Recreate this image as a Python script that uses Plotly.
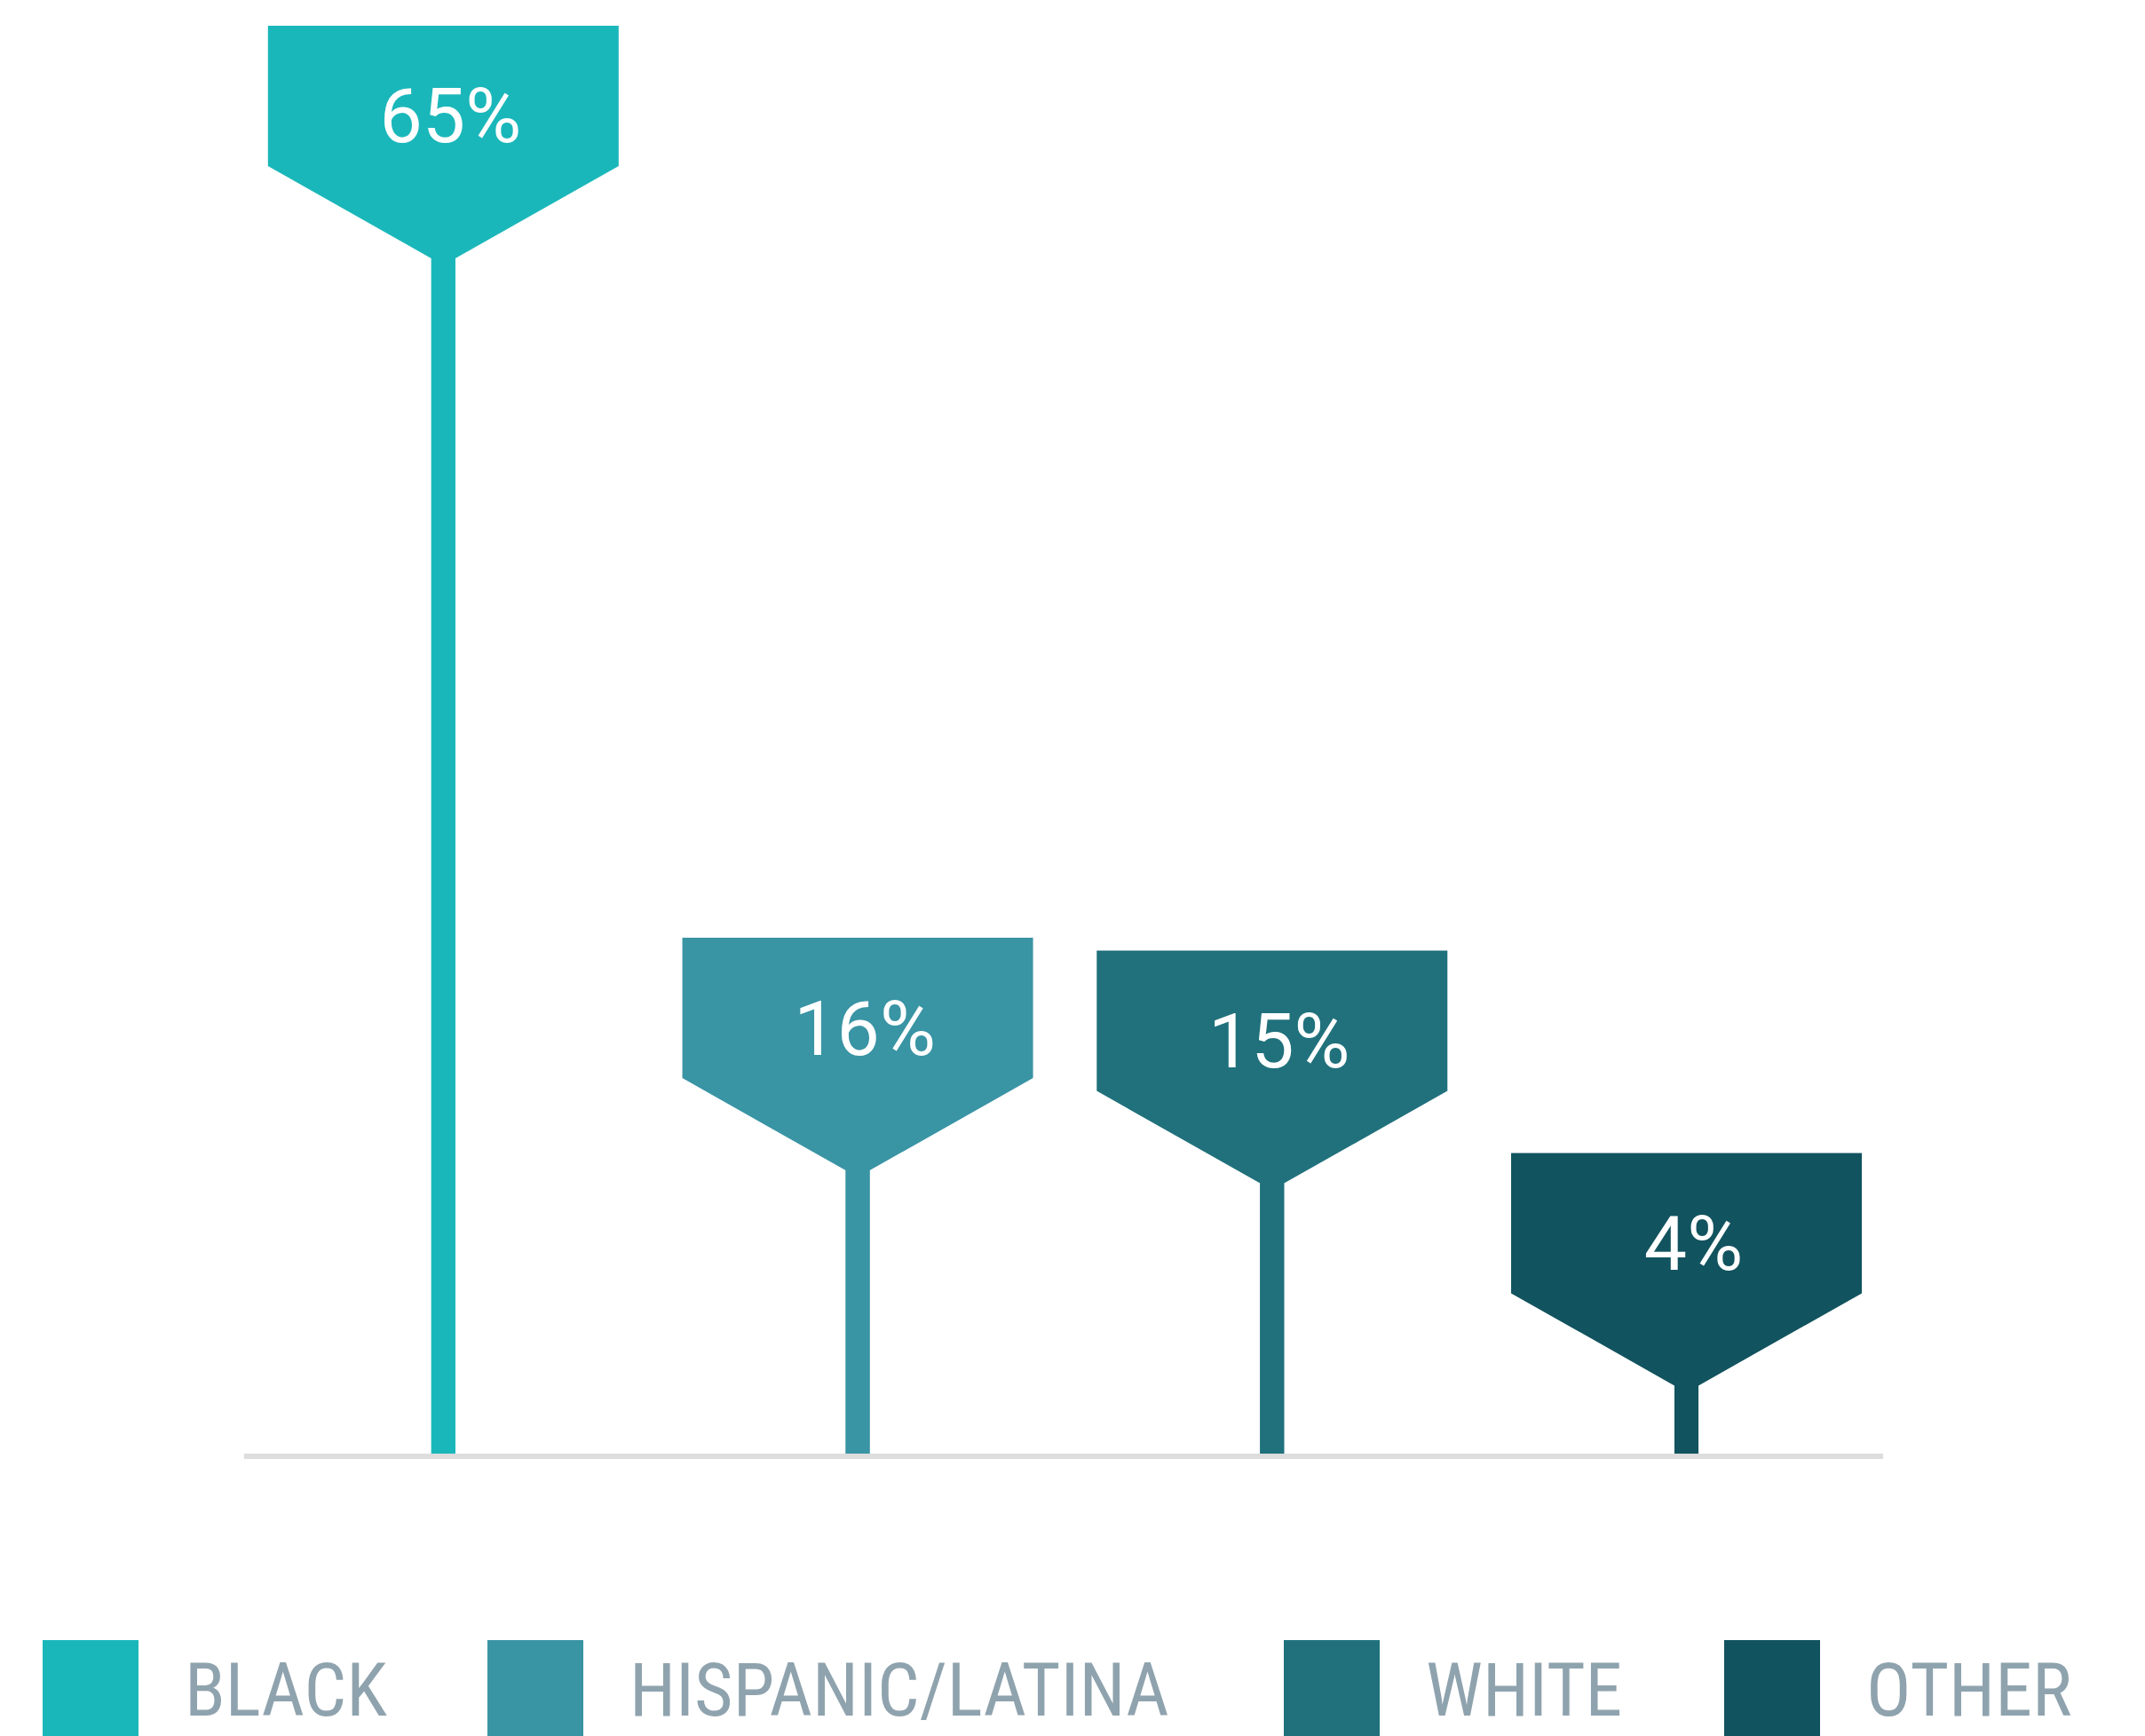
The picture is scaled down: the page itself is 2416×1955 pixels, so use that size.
import plotly.graph_objects as go

# ---------------- data ----------------
categories = ["BLACK", "HISPANIC/LATINA", "WHITE", "OTHER"]
values = [65, 15.4, 14.7, 3.7]
labels = ["65%", "16%", "15%", "4%"]
colors = ["#1ab7ba", "#3994a4", "#20717c", "#11535e"]

# ---------------- layout constants (pixels) ----------------
W, H = 2416, 1955
PLOT_L, PLOT_R = 275, 2121          # plot area horizontal extent (px)
PLOT_T, PLOT_B = 0, 1650            # plot area vertical extent (px)
ZERO_PX = 1637                      # pixel row of y = 0
PX_PER_Y = 20.708                   # pixels per percentage point
X_RANGE = [-0.4806, 3.4745]

PX_PER_X = (PLOT_R - PLOT_L) / (X_RANGE[1] - X_RANGE[0])
Y_RANGE = [-(PLOT_B - ZERO_PX) / PX_PER_Y, (ZERO_PX - PLOT_T) / PX_PER_Y]

HEAD_HALF_W = 197.5 / PX_PER_X
STEM_W = 27 / PX_PER_X
RECT_BOTTOM = 104 / PX_PER_Y
RECT_TOP = 262 / PX_PER_Y
LABEL_Y = 152 / PX_PER_Y
LABEL_DX = 8 / PX_PER_X

TEXT_GREY = "#8fa3ae"

fig = go.Figure()

x_pos = list(range(len(categories)))

# stems
fig.add_trace(go.Bar(
    x=x_pos, y=values, base=0, width=STEM_W,
    marker=dict(color=colors, line=dict(width=0)),
    showlegend=False, hoverinfo="skip",
))

# tag-shaped heads (outline continues down the stem so no seam shows)
for i, (v, c) in enumerate(zip(values, colors)):
    hw, sw = HEAD_HALF_W, STEM_W / 2
    xs = [i - hw, i - hw, i + hw, i + hw, i + sw, i + sw, i - sw, i - sw, i - hw]
    ys = [v + RECT_BOTTOM, v + RECT_TOP, v + RECT_TOP, v + RECT_BOTTOM,
          v, 0, 0, v, v + RECT_BOTTOM]
    fig.add_trace(go.Scatter(
        x=xs, y=ys, mode="lines", fill="toself", fillcolor=c,
        line=dict(width=0, color=c), showlegend=False, hoverinfo="skip",
    ))

# value labels
fig.add_trace(go.Scatter(
    x=[i + LABEL_DX for i in x_pos], y=[v + LABEL_Y for v in values],
    mode="text", text=labels, textposition="middle center",
    textfont=dict(family="Roboto", size=86, color="white"),
    showlegend=False, hoverinfo="skip", cliponaxis=False,
))

# baseline
fig.add_shape(type="line", xref="paper", yref="y", x0=0, x1=1,
              y0=-3 / PX_PER_Y, y1=-3 / PX_PER_Y,
              line=dict(color="#dddddd", width=6), layer="above")

# ---------------- custom legend ----------------
def px_to_paper_x(px):
    return (px - PLOT_L) / (PLOT_R - PLOT_L)

def px_to_paper_y(py):
    return (PLOT_B - py) / (PLOT_B - PLOT_T)

LEG_X = [48, 549, 1446, 1942]
LEG_SQ = 108
LEG_TOP = 1847
LEG_GAP = 50
for lx, name, c in zip(LEG_X, categories, colors):
    fig.add_shape(type="rect", xref="paper", yref="paper",
                  x0=px_to_paper_x(lx), x1=px_to_paper_x(lx + LEG_SQ),
                  y0=px_to_paper_y(LEG_TOP + LEG_SQ), y1=px_to_paper_y(LEG_TOP),
                  fillcolor=c, line=dict(width=0))
    fig.add_annotation(xref="paper", yref="paper",
                       x=px_to_paper_x(lx + LEG_SQ + LEG_GAP),
                       y=px_to_paper_y(LEG_TOP + LEG_SQ / 2 + 3),
                       xanchor="left", yanchor="middle", showarrow=False,
                       text=name,
                       font=dict(family="Roboto Condensed, Liberation Sans Narrow, Roboto",
                                 size=84, color=TEXT_GREY))

fig.update_layout(
    width=W, height=H,
    margin=dict(l=PLOT_L, r=W - PLOT_R, t=PLOT_T, b=H - PLOT_B, pad=0),
    paper_bgcolor="white", plot_bgcolor="white",
    xaxis=dict(range=X_RANGE, showgrid=False, zeroline=False, showticklabels=False,
               showline=False, fixedrange=True),
    yaxis=dict(range=Y_RANGE, showgrid=False, zeroline=False, showticklabels=False,
               showline=False, fixedrange=True),
    barmode="overlay",
    hovermode=False,
    showlegend=False,
)

fig.write_html("out.html", config={"displayModeBar": False},
               post_script="document.body.style.margin='0';")
